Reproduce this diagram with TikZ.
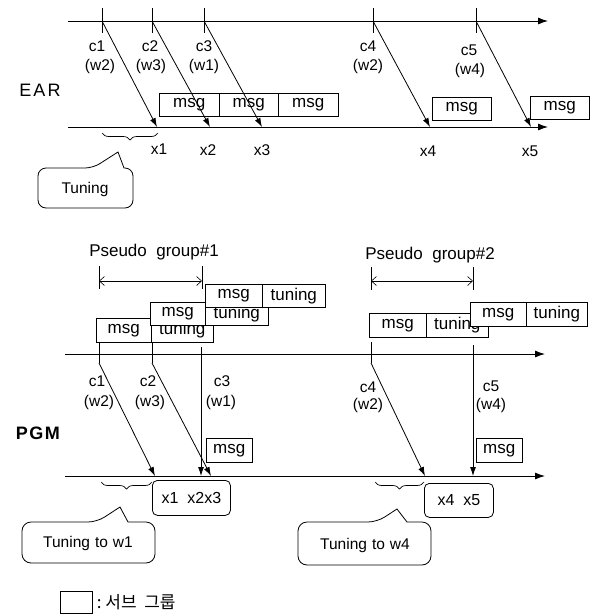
\documentclass[tikz,border=0pt]{standalone}
\usepackage{fontspec}
\setmainfont{Liberation Sans}
\newfontfamily\krfont{Noto Sans CJK KR}
\usetikzlibrary{arrows.meta,decorations.pathreplacing}

\begin{document}
\begin{tikzpicture}[x=1pt,y=-1pt,
    every node/.style={font=\fontsize{15.5}{17}\selectfont, inner sep=0pt},
    axis/.style={line width=0.9pt,-{Latex[length=10pt,width=7pt]}},
    sig/.style={line width=0.8pt,-{Latex[length=9pt,width=6pt]}},
    cell/.style={draw,fill=white,line width=0.6pt,anchor=north west,minimum height=23pt,
        font=\fontsize{17}{19}\selectfont},
    grp/.style={draw,fill=white,line width=0.8pt,rounded corners=5pt,anchor=north west,
        font=\fontsize{16}{18}\selectfont},
    brc/.style={decorate,decoration={brace,mirror,amplitude=7pt},line width=0.7pt},
    big/.style={font=\fontsize{18}{20}\selectfont},
    head/.style={font=\fontsize{17}{19}\selectfont}]
    \useasboundingbox (0,0) rectangle (594,614);

    % ---- EAR ----
    \node[big] (ear) at (40,90) {E\kern2pt A\kern2pt R};
    \coordinate (e0) at (68,21);
    \coordinate (e1) at (548,21);
    \coordinate (f0) at (68,127);
    \coordinate (f1) at (548,127);
    \draw[axis] (e0) -- (e1);
    \draw[axis] (f0) -- (f1);

    \foreach \n/\x in {1/102,2/152,3/204,4/373,5/476}{
        \coordinate (et\n) at (\x,21);
        \draw[line width=0.7pt] (\x,8) -- (\x,33);
    }
    \foreach \n/\x in {1/157,2/210,3/262,4/430,5/531}
        \coordinate (eh\n) at (\x,127);

    \node[cell,minimum width=60pt] (em1) at (159,93) {msg};
    \node[cell,minimum width=59pt] (em2) at (219,93) {msg};
    \node[cell,minimum width=60pt] (em3) at (278,93) {msg};
    \node[cell,minimum width=59pt] (em4) at (432,97) {msg};
    \node[cell,minimum width=59pt] (em5) at (530,96) {msg};

    \foreach \n in {1,...,5}
        \draw[sig] (et\n) -- (eh\n);

    \node (ec1) at (97,46) {c1};   \node (ew1) at (100,66) {(w2)};
    \node (ec2) at (150,46) {c2};  \node (ew2) at (151,66) {(w3)};
    \node (ec3) at (204,46) {c3};  \node (ew3) at (204,66) {(w1)};
    \node (ec4) at (368,46) {c4};  \node (ew4) at (368,66) {(w2)};
    \node (ec5) at (469,50) {c5};  \node (ew5) at (470,70) {(w4)};

    \node (ex1) at (159,149) {x1};
    \node (ex2) at (208,150) {x2};
    \node (ex3) at (262,150) {x3};
    \node (ex4) at (428,151) {x4};
    \node (ex5) at (530,151) {x5};

    \draw[brc] (102,133) -- (158,133);
    \draw[line width=0.8pt,rounded corners=8pt] (38,188) -- (38,168) -- (93,168)
        [sharp corners] -- (118,152) -- (124,168) [rounded corners=8pt] -- (133,168)
        -- (133,208) -- (38,208) -- cycle;
    \node (tun) at (85,189) {Tuning};

    % ---- PGM ----
    \node[big,font=\fontsize{18}{20}\selectfont\bfseries] (pgm) at (38,433) {P\kern1.5pt G\kern1.5pt M};
    \node[head] (pg1) at (154,252) {Pseudo\ \ group\#1};
    \node[head] (pg2) at (430,255) {Pseudo\ \ group\#2};
    \coordinate (pa1) at (99,281);  \coordinate (pb1) at (202,281);
    \coordinate (pa2) at (371,281); \coordinate (pb2) at (473,281);
    \draw[line width=0.6pt] (99,266) -- (99,289) (202,266) -- (202,289);
    \draw[line width=0.6pt] (371,267) -- (371,290) (473,267) -- (473,290);
    \draw[line width=0.6pt,{Straight Barb[length=5pt,width=9pt]}-{Straight Barb[length=5pt,width=9pt]}] (pa1) -- (pb1);
    \draw[line width=0.6pt,{Straight Barb[length=5pt,width=9pt]}-{Straight Barb[length=5pt,width=9pt]}] (pa2) -- (pb2);

    \node[cell,minimum width=55pt,minimum height=24pt] (ma) at (96,318) {msg};
    \node[cell,minimum width=62pt,minimum height=24pt] (ta) at (151,318) {tuning};
    \node[cell,minimum width=55pt] (mb) at (150,302) {msg};
    \node[cell,minimum width=63pt] (tb) at (205,302) {tuning};
    \node[cell,minimum width=57pt] (mc) at (205,284) {msg};
    \node[cell,minimum width=63pt] (tc) at (262,284) {tuning};
    \node[cell,minimum width=57pt,minimum height=24pt] (md) at (369,313) {msg};
    \node[cell,minimum width=62pt,minimum height=24pt] (td) at (426,313) {tuning};
    \node[cell,minimum width=56pt,minimum height=24pt] (me) at (470,302) {msg};
    \node[cell,minimum width=61pt,minimum height=24pt] (te) at (526,302) {tuning};

    \coordinate (p0) at (65,354);
    \coordinate (p1) at (545,354);
    \coordinate (q0) at (65,476);
    \coordinate (q1) at (545,476);
    \draw[axis] (p0) -- (p1);
    \draw[axis] (q0) -- (q1);

    \foreach \n/\x in {1/99,2/152,4/371}{
        \coordinate (pt\n) at (\x,363);
        \draw[line width=0.7pt] (\x,342) -- (pt\n);
    }
    \coordinate (pt3) at (201,347);
    \coordinate (pt5) at (473,345);
    \foreach \n/\x in {1/155,2/211,3/201,4/425,5/473}
        \coordinate (ph\n) at (\x,476);
    \foreach \n in {1,...,5}
        \draw[sig] (pt\n) -- (ph\n);

    \node (pc1) at (97,381) {c1};   \node (pw1) at (99,402) {(w2)};
    \node (pc2) at (148,381) {c2};  \node (pw2) at (150,402) {(w3)};
    \node (pc3) at (222,381) {c3};  \node (pw3) at (221,402) {(w1)};
    \node (pc4) at (368,387) {c4};  \node (pw4) at (368,405) {(w2)};
    \node (pc5) at (491,386) {c5};  \node (pw5) at (491,405) {(w4)};

    \node[cell,minimum width=46pt,minimum height=24pt] (pm1) at (206,438) {msg};
    \node[cell,minimum width=46pt,minimum height=24pt] (pm2) at (476,438) {msg};

    \node[grp,minimum width=78pt,minimum height=35pt] (g1) at (152,480) {x1\ \ x2x3};
    \node[grp,minimum width=69pt,minimum height=34pt] (g2) at (424,483) {x4\ \ x5};

    \draw[brc] (101,482) -- (152,482);
    \draw[brc] (375,482) -- (424,482);

    \draw[line width=0.8pt,rounded corners=9pt] (22,542) -- (22,522) -- (97,522)
        [sharp corners] -- (120,507) -- (128,522) [rounded corners=9pt] -- (155,522)
        -- (155,563) -- (22,563) -- cycle;
    \node (tw1) at (88,543) {Tuning\hspace{5pt}to\hspace{5pt}w1};
    \draw[line width=0.8pt,rounded corners=9pt] (298,543) -- (298,522) -- (377,522)
        [sharp corners] -- (397,509) -- (407,522) [rounded corners=9pt] -- (431,522)
        -- (431,565) -- (298,565) -- cycle;
    \node (tw4) at (365,545) {Tuning\hspace{5pt}to\hspace{5pt}w4};

    % legend
    \node[draw,line width=0.7pt,anchor=north west,minimum width=32pt,minimum height=22pt] (leg) at (60,591) {};
    \node[anchor=west,font=\krfont\fontsize{17}{19}\selectfont] (legt) at ([xshift=4pt]leg.east) {:\ 서브\ \ 그룹};
\end{tikzpicture}
\end{document}
